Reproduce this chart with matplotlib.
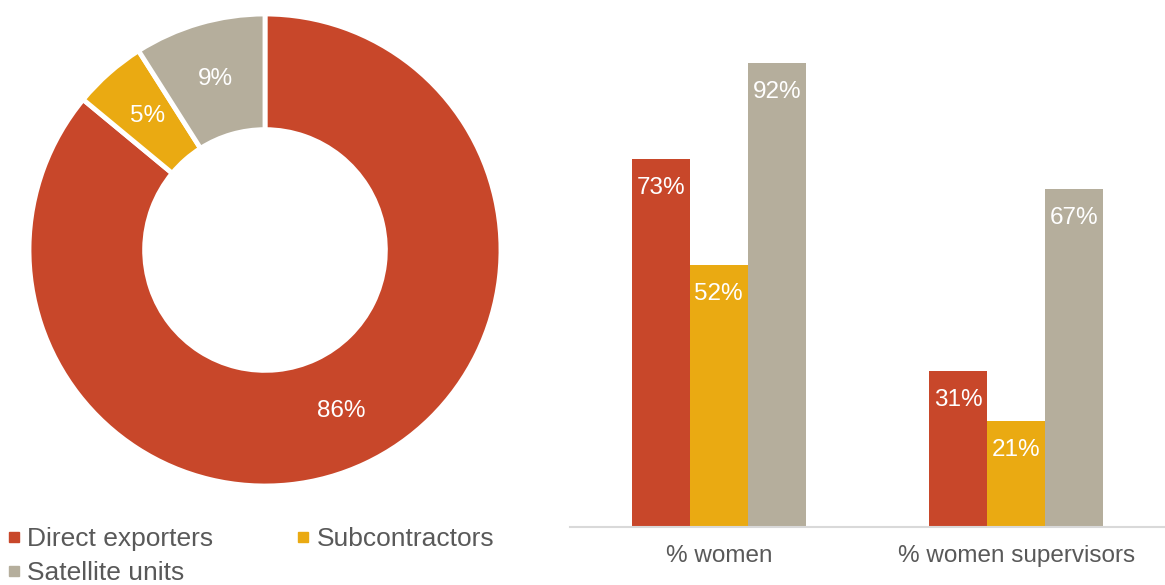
import matplotlib
matplotlib.use("Agg")
import numpy as np
import matplotlib.pyplot as plt
from matplotlib.lines import Line2D

plt.rcParams["font.family"] = ["Liberation Sans", "DejaVu Sans"]

RED = "#C8472A"
YELLOW = "#EAAA12"
GRAY = "#B5AE9C"
TEXT = "#595959"

# ── Data ──────────────────────────────────────────────────────────────────────
units = ["Direct exporters", "Subcontractors", "Satellite units"]
share_units = [86, 5, 9]                 # % of units, donut

groups = ["% women", "% women supervisors"]
women = {
    "Direct exporters": [73, 31],
    "Subcontractors": [52, 21],
    "Satellite units": [92, 67],
}
colors = [RED, YELLOW, GRAY]

W, H = 1165, 585
fig = plt.figure(figsize=(W / 100, H / 100), dpi=100, facecolor="white")

# ── Donut ─────────────────────────────────────────────────────────────────────
R = 236
cx, cy = 265, 250
ax_d = fig.add_axes([(cx - R) / W, (H - cy - R) / H, 2 * R / W, 2 * R / H])
wedges, _, autotexts = ax_d.pie(
    share_units, colors=colors, startangle=90, counterclock=False,
    radius=1.0, autopct=lambda p: f"{p:.0f}%", pctdistance=0.755,
    wedgeprops=dict(width=0.49, edgecolor="white", linewidth=3.5),
    textprops=dict(color="white", fontsize=17.5),
)
ax_d.set_xlim(-1, 1)
ax_d.set_ylim(-1, 1)
ax_d.set_aspect("equal")
ax_d.axis("off")

# legend under the donut, filled row by row (legend fills by column)
handles = [Line2D([], [], marker="s", linestyle="none", markersize=7,
                  markerfacecolor=c, markeredgecolor=c) for c in colors]
order = [0, 2, 1]
fig.legend([handles[i] for i in order], [units[i] for i in order],
           loc="upper left", bbox_to_anchor=(0.002, 0.108),
           ncol=2, frameon=False, fontsize=19, labelcolor=TEXT,
           handlelength=0.5, handletextpad=0.25, columnspacing=3.15,
           labelspacing=0.38, borderaxespad=0, borderpad=0.2)

# ── Bars ──────────────────────────────────────────────────────────────────────
ax_b = fig.add_axes([570 / W, (H - 527) / H, 595 / W, 504 / H])
x = np.arange(len(groups))
bw = 0.195
for i, (name, c) in enumerate(zip(units, colors)):
    vals = women[name]
    bars = ax_b.bar(x + (i - 1) * bw, vals, width=bw, color=c, linewidth=0)
    for b, v in zip(bars, vals):
        ax_b.annotate(f"{v}%", (b.get_x() + b.get_width() / 2, v),
                      xytext=(0, -21), textcoords="offset points",
                      ha="center", va="center", color="white", fontsize=17.5)

ax_b.set_xlim(-0.5, 1.5)
ax_b.set_ylim(0, 100)
ax_b.set_xticks(x)
ax_b.set_xticklabels(groups, fontsize=17.5, color=TEXT)
ax_b.tick_params(axis="x", length=0, pad=13)
ax_b.set_yticks([])
for side in ("top", "right", "left"):
    ax_b.spines[side].set_visible(False)
ax_b.spines["bottom"].set_color("#D9D9D9")
ax_b.spines["bottom"].set_linewidth(1.5)

fig.savefig("out.png", dpi=100, facecolor="white")
